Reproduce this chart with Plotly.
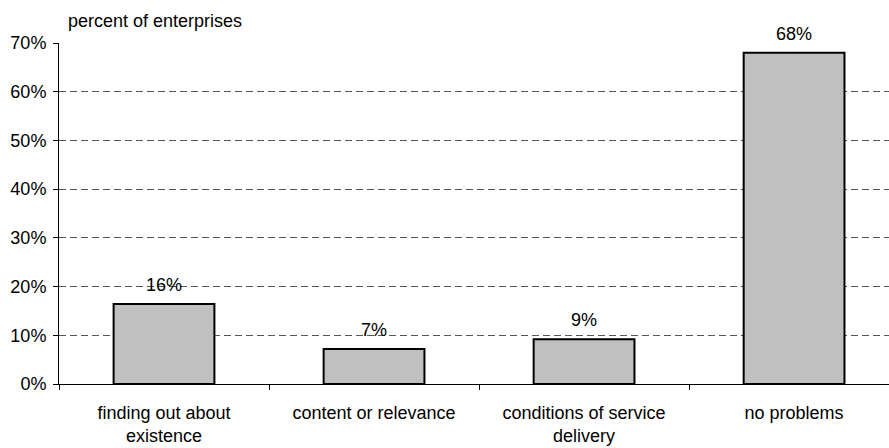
import plotly.graph_objects as go

# Problems met with public e-services, share of enterprises
categories = ["finding out about<br>existence", "content or relevance",
              "conditions of service<br>delivery", "no problems"]
shares = [16.4, 7.2, 9.2, 68.0]
y_ticks = [0, 10, 20, 30, 40, 50, 60, 70]
y_tick_labels = [f"{v}%" for v in y_ticks]

FONT = dict(family="Liberation Sans, Arial, sans-serif", size=18, color="#000000")

fig = go.Figure(
    go.Bar(
        x=categories,
        y=shares,
        width=0.48,
        marker=dict(color="#C0C0C0", line=dict(color="#000000", width=2)),
        hoverinfo="skip",
    )
)

# value labels above each bar
for cat, val in zip(categories, shares):
    fig.add_annotation(
        x=cat, y=val, xref="x", yref="y",
        text=f"{val:.0f}%", showarrow=False,
        yanchor="middle", yshift=19, font=FONT,
    )

fig.add_annotation(
    text="percent of enterprises", xref="paper", yref="paper",
    x=7 / 830, y=1, xanchor="left", yanchor="middle", yshift=22,
    showarrow=False, font=FONT,
)

fig.update_layout(
    width=889, height=448,
    margin=dict(l=59, r=0, t=43, b=64),
    paper_bgcolor="#FFFFFF", plot_bgcolor="#FFFFFF",
    font=FONT, showlegend=False,
    xaxis=dict(
        range=[-0.5, 3.452], showline=True, linecolor="#000000", linewidth=1,
        ticks="outside", ticklen=5, tickcolor="#000000", tickson="boundaries",
        showgrid=False, tickfont=FONT, ticklabelstandoff=12,
    ),
    yaxis=dict(
        range=[0, 70], tickvals=y_ticks, ticktext=y_tick_labels,
        showline=True, linecolor="#000000", linewidth=1,
        ticks="outside", ticklen=5, tickcolor="#000000",
        showgrid=True, gridcolor="#555555", gridwidth=1, griddash="7px,4px",
        zeroline=False, tickfont=FONT, ticklabelstandoff=3,
    ),
)

fig.write_html("out.html")
